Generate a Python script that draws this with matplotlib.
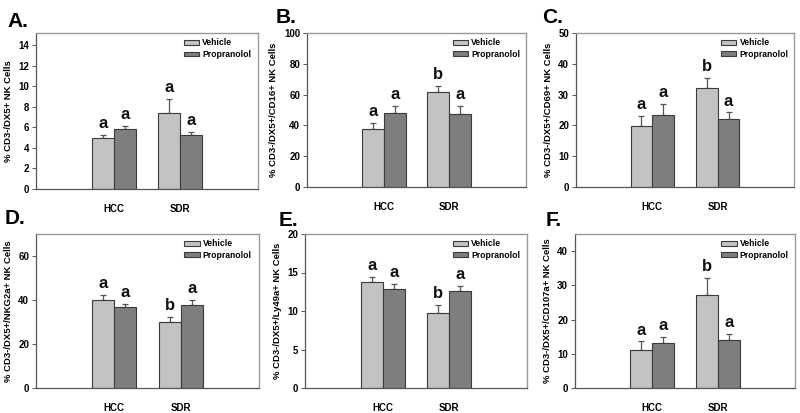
import matplotlib
matplotlib.use("Agg")
import matplotlib.pyplot as plt
import numpy as np

plt.rcParams['font.family'] = ['Liberation Sans', 'DejaVu Sans']

groups = ["HCC", "SDR"]
series_names = ["Vehicle", "Propranolol"]

# values: [HCC, SDR]
A_vehicle = [4.95, 7.39]
A_vehicle_err = [0.33, 1.37]
A_prop = [5.8, 5.28]
A_prop_err = [0.36, 0.26]
A_letters = [["a", "a"], ["a", "a"]]

B_vehicle = [37.9, 61.5]
B_vehicle_err = [3.9, 3.9]
B_prop = [48.3, 47.6]
B_prop_err = [4.3, 5.2]
B_letters = [["a", "b"], ["a", "a"]]

C_vehicle = [19.8, 32.2]
C_vehicle_err = [3.2, 3.2]
C_prop = [23.3, 22.1]
C_prop_err = [3.6, 2.1]
C_letters = [["a", "b"], ["a", "a"]]

D_vehicle = [40.0, 29.8]
D_vehicle_err = [2.3, 2.5]
D_prop = [36.7, 37.6]
D_prop_err = [1.5, 2.4]
D_letters = [["a", "b"], ["a", "a"]]

E_vehicle = [13.75, 9.72]
E_vehicle_err = [0.7, 1.05]
E_prop = [12.84, 12.54]
E_prop_err = [0.66, 0.69]
E_letters = [["a", "b"], ["a", "a"]]

F_vehicle = [11.1, 27.3]
F_vehicle_err = [2.5, 4.8]
F_prop = [13.1, 14.0]
F_prop_err = [1.8, 1.7]
F_letters = [["a", "b"], ["a", "a"]]

panels = [
    ("A.", "% CD3-/DX5+ NK Cells", A_vehicle, A_vehicle_err, A_prop, A_prop_err, A_letters, 15.2, np.arange(0, 15, 2)),
    ("B.", "% CD3-/DX5+/CD16+ NK Cells", B_vehicle, B_vehicle_err, B_prop, B_prop_err, B_letters, 100, np.arange(0, 101, 20)),
    ("C.", "% CD3-/DX5+/CD69+ NK Cells", C_vehicle, C_vehicle_err, C_prop, C_prop_err, C_letters, 50, np.arange(0, 51, 10)),
    ("D.", "% CD3-/DX5+/NKG2a+ NK Cells", D_vehicle, D_vehicle_err, D_prop, D_prop_err, D_letters, 70, np.arange(0, 61, 20)),
    ("E.", "% CD3-/DX5+/Ly49a+ NK Cells", E_vehicle, E_vehicle_err, E_prop, E_prop_err, E_letters, 20, np.arange(0, 21, 5)),
    ("F.", "% CD3-/DX5+/CD107a+ NK Cells", F_vehicle, F_vehicle_err, F_prop, F_prop_err, F_letters, 45, np.arange(0, 41, 10)),
]

W, H = 800, 413
fig = plt.figure(figsize=(8.0, 4.13), dpi=100)

# pixel boxes (left, right, top, bottom)
boxes = [
    (36, 258, 33, 189),
    (307, 526, 33, 187),
    (576, 794, 33, 187),
    (36, 259, 234, 388),
    (305, 527, 234, 388),
    (575, 795, 234, 388),
]
label_pos = [(7, 12), (276, 8), (542, 8), (5, 209), (279, 211), (546, 211)]

veh_color = "#c3c3c3"
prop_color = "#7e7e7e"
edge = "#3a3a3a"
bw = 0.333
x = np.arange(len(groups))

for (plabel, ylabel, veh, veh_e, prop, prop_e, letters, ymax, yt), (l, r, t, b), (lx, ly) in zip(panels, boxes, label_pos):
    ax = fig.add_axes([l / W, 1 - b / H, (r - l) / W, (b - t) / H])
    ax.bar(x - bw / 2, veh, bw, color=veh_color, edgecolor=edge, linewidth=0.8, label=series_names[0], zorder=2)
    ax.bar(x + bw / 2, prop, bw, color=prop_color, edgecolor=edge, linewidth=0.8, label=series_names[1], zorder=2)
    ax.errorbar(x - bw / 2, veh, yerr=[np.zeros(len(veh)), veh_e], fmt='none', ecolor="#555555",
                elinewidth=0.9, capsize=2.2, capthick=0.9, zorder=1)
    ax.errorbar(x + bw / 2, prop, yerr=[np.zeros(len(prop)), prop_e], fmt='none', ecolor="#555555",
                elinewidth=0.9, capsize=2.2, capthick=0.9, zorder=1)
    off = ymax * 0.025
    for i in range(len(groups)):
        ax.text(x[i] - bw / 2, veh[i] + veh_e[i] + off, letters[0][i], ha='center', va='bottom',
                fontsize=12, fontweight='bold', color="#111111")
        ax.text(x[i] + bw / 2, prop[i] + prop_e[i] + off, letters[1][i], ha='center', va='bottom',
                fontsize=12, fontweight='bold', color="#111111")
    ax.set_xlim(-1.17, 2.17)
    ax.set_ylim(0, ymax)
    ax.set_yticks(yt)
    ax.set_xticks(x)
    ax.set_xticklabels(groups, fontsize=7, fontweight='bold')
    ax.tick_params(axis='x', length=0, pad=11)
    ax.tick_params(axis='y', labelsize=7, length=3, width=0.7, color="#555555", pad=2)
    for lab in ax.get_yticklabels():
        lab.set_fontweight('bold')
    ax.set_ylabel(ylabel, fontsize=6.8, fontweight='bold', labelpad=4)
    for s in ['top', 'right']:
        ax.spines[s].set_color("#9a9a9a")
        ax.spines[s].set_linewidth(1.0)
    for s in ['left', 'bottom']:
        ax.spines[s].set_color("#555555")
        ax.spines[s].set_linewidth(0.9)
    leg = ax.legend(loc='upper left', bbox_to_anchor=(0.665, 0.965), frameon=False, fontsize=6.2,
                    handlelength=1.8, handleheight=0.5, handletextpad=0.35, labelspacing=0.3,
                    borderpad=0, borderaxespad=0)
    for txt in leg.get_texts():
        txt.set_fontweight('bold')
    fig.text(lx / W, 1 - ly / H, plabel, fontsize=15, fontweight='bold', ha='left', va='top')

fig.savefig("out.png", dpi=100)
